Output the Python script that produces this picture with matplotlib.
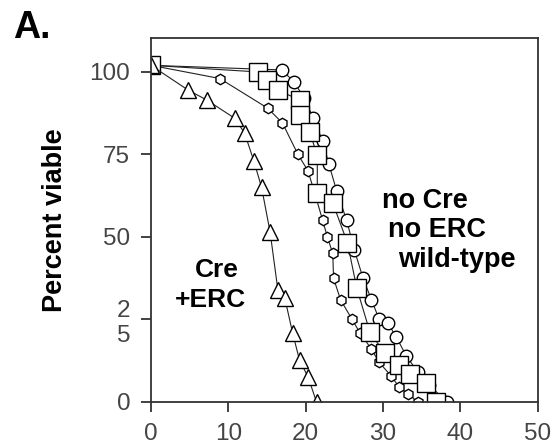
import matplotlib
matplotlib.use("Agg")
import matplotlib.pyplot as plt

plt.rcParams['font.family'] = ['Liberation Sans', 'DejaVu Sans']

# Cre + ERC (triangles)
tri_x = [0, 4.8, 7.2, 10.8, 12.1, 13.3, 14.3, 15.4, 16.4, 17.3, 18.3, 19.2, 20.3, 21.4]
tri_y = [102, 94.5, 91.5, 86, 81.5, 73, 65, 51.5, 34, 31.5, 21, 12.7, 7.6, 0]

# no Cre / no ERC / wild-type curves
circ_x = [0, 8.9, 15.1, 17.0, 19.0, 20.3, 21.2, 22.2, 22.8, 23.5, 23.6, 24.5, 26.0,
          27.0, 28.5, 29.5, 31.0, 32.1, 33.2, 34.5]
circ_y = [102, 98, 89, 84.5, 75, 70, 63, 55, 50, 45, 37.5, 31, 25,
          21, 16, 12, 8, 4.5, 2.5, 0]

hex_x = [0, 16.9, 18.5, 19.8, 21.0, 22.2, 23.0, 24.0, 25.3, 26.3, 27.4, 28.5, 29.5,
         30.6, 31.7, 33.0, 34.5, 36.0, 38.3]
hex_y = [102, 100.6, 97, 92, 86, 79, 72, 64, 55, 46, 37.6, 31, 25,
         24, 19.7, 14, 9, 5, 0]

sq_x = [0, 13.8, 15.0, 16.4, 19.2, 19.3, 20.5, 21.5, 21.5, 23.5, 25.4, 26.6, 28.3,
        30.2, 32.1, 33.5, 35.6, 36.9]
sq_y = [102, 100, 97.5, 94.5, 91.5, 87, 81.8, 74.8, 63.3, 60.3, 48.2, 34.5, 21.2,
        14.8, 11.2, 8.5, 5.8, 0]

yticks = [0, 25, 50, 75, 100]
ytick_labels = ['0', '2\n5', '50', '75', '100']
xticks = [0, 10, 20, 30, 40, 50]

fig = plt.figure(figsize=(5.55, 4.44), dpi=100)
ax = fig.add_axes([0.272, 0.0946, 0.697, 0.82])

mk = dict(color='#222222', lw=0.8, markerfacecolor='white', markeredgecolor='black',
          markeredgewidth=1.0)
ax.plot(circ_x, circ_y, marker='h', ms=7.5, **mk)
ax.plot(hex_x, hex_y, marker='o', ms=9, **mk)
ax.plot(sq_x, sq_y, marker='s', ms=12.5, **mk)
ax.plot(tri_x, tri_y, marker='^', ms=11.5, **mk)

ax.set_xlim(0, 50)
ax.set_ylim(0, 110.3)
ax.set_xticks(xticks)
ax.set_xticklabels([str(t) for t in xticks])
ax.set_yticks(yticks)
ax.set_yticklabels(ytick_labels)
for lab in ax.get_yticklabels():
    if '\n' in lab.get_text():
        lab.set_verticalalignment('center_baseline')

for s in ax.spines.values():
    s.set_color('#333333')
    s.set_linewidth(1.3)
ax.tick_params(direction='out', length=7, width=1.3, color='#333333',
               labelsize=17.5, labelcolor='#444444')
ax.tick_params(axis='y', pad=8)
ax.tick_params(axis='x', pad=8)

ax.set_ylabel('Percent viable', fontsize=19.5, fontweight='bold')
ax.yaxis.set_label_coords(-0.214, 0.5)

ax.text(8.5, 40, 'Cre', ha='center', va='center', fontsize=19, fontweight='bold')
ax.text(7.7, 31, '+ERC', ha='center', va='center', fontsize=19, fontweight='bold')
ax.text(29.8, 61, 'no Cre', ha='left', va='center', fontsize=19.5, fontweight='bold')
ax.text(30.6, 52, 'no ERC', ha='left', va='center', fontsize=19.5, fontweight='bold')
ax.text(32.0, 43, 'wild-type', ha='left', va='center', fontsize=19.5, fontweight='bold')

fig.text(0.058, 0.937, 'A.', ha='center', va='center', fontsize=27, fontweight='bold')

fig.savefig('out.png', dpi=100)
